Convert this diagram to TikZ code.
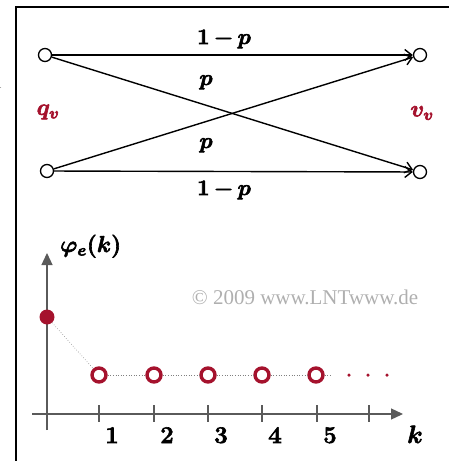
\RequirePackage{fix-cm}
\documentclass[tikz,border=0pt]{standalone}
\usepackage{fontspec}
\newfontfamily\cpyfont{Liberation Serif}
\usetikzlibrary{arrows.meta}
\definecolor{lntred}{RGB}{165,18,45}
\definecolor{axgray}{RGB}{90,90,90}
\definecolor{cpygray}{RGB}{175,175,175}
% heavier glyphs: fill and stroke the text
\newcommand{\heavy}[1]{\special{pdf:literal direct 2 Tr 0.6 w}#1\special{pdf:literal direct 0 Tr 0.4 w}}
\begin{document}
\begin{tikzpicture}[x=1pt,y=-1pt,
    state/.style={draw, circle, line width=1.3pt, fill=white, minimum size=13pt, inner sep=0pt},
    trans/.style={line width=1.4pt, -{Straight Barb[length=7pt,width=11pt,line width=1.4pt]}},
    prob/.style={font=\fontsize{22}{22}\selectfont\boldmath, inner sep=0pt},
    sym/.style={font=\fontsize{23}{23}\selectfont\boldmath, text=lntred, inner sep=0pt},
    axis/.style={axgray, line width=1.3pt, -{Triangle[length=12pt,width=11pt]}},
    tick/.style={axgray, line width=1.1pt},
    num/.style={font=\fontsize{24}{24}\selectfont\bfseries, inner sep=0pt, anchor=base},
    ring/.style={draw=lntred, circle, line width=3.4pt, fill=white, minimum size=14pt, inner sep=0pt},
    dot/.style={fill=lntred, circle, minimum size=15pt, inner sep=0pt},
    more/.style={fill=lntred, circle, minimum size=3.5pt, inner sep=0pt},
  ]
    \useasboundingbox (0,0) rectangle (448,461);

    % frame, cut off on the right and at the bottom
    \draw[line width=1.6pt] (16,470) -- (16,7) -- (460,7);
    \node[font=\fontsize{21}{21}\selectfont, text=axgray, anchor=base east, inner sep=0pt] (cut) at (3,88) {1};

    % channel
    \node[state] (q0) at (45,55)  {};
    \node[state] (q1) at (47,171) {};
    \node[state] (v0) at (420,55) {};
    \node[state] (v1) at (420,172) {};

    \draw[trans] (q0) -- (v0);
    \draw[trans] (q0) -- (v1);
    \draw[trans] (q1) -- (v0);
    \draw[trans] (q1) -- (v1);

    \node[prob, anchor=base] (p00) at (224,44)  {\heavy{$1\,{-}\,p$}};
    \node[prob, anchor=base] (p01) at (206,85)  {\heavy{$p$}};
    \node[prob, anchor=base] (p10) at (206,148) {\heavy{$p$}};
    \node[prob, anchor=base] (p11) at (224,195) {\heavy{$1\,{-}\,p$}};

    \node[sym] (qv) at (48,112)  {\heavy{$q_v$}};
    \node[sym] (vv) at (422,113) {\heavy{$v_v$}};

    % correlation plot
    \draw[axis] (47,430) -- (47,253);
    \draw[axis] (32,414) -- (403,414);
    \node[font=\fontsize{23}{23}\selectfont\boldmath, anchor=base west, inner sep=0pt] (phi) at (60,252) {\heavy{$\varphi_e(k)$}};
    \node[font=\fontsize{25}{25}\selectfont\boldmath, anchor=base, inner sep=0pt] (kk) at (415,443) {\heavy{$k$}};

    \foreach \i/\x in {1/99,2/154,3/208,4/262,5/317} {
      \draw[tick] (\x,405) -- (\x,422);
      \node[num] (n\i) at (\x+13,443) {\heavy{\i}};
    }
    \draw[tick] (369,405) -- (369,422);

    \node[font=\cpyfont\fontsize{21}{21}\selectfont, text=cpygray, inner sep=0pt] (cpy) at (305,297) {© 2009 www.LNTwww.de};

    \node[dot] (e0) at (47,317) {};
    \foreach \i/\x in {1/99,2/154,3/208,4/262,5/316} {
      \node[ring] (e\i) at (\x,375) {};
    }
    \draw[gray, line width=0.6pt, dotted] (e0) -- (e1);
    \foreach \a/\b in {1/2,2/3,3/4,4/5} {
      \draw[gray, line width=0.6pt, dotted] (e\a) -- (e\b);
    }
    \coordinate (tail) at (332,375);
    \draw[gray, line width=0.6pt, dotted] (e5) -- (tail);
    \foreach \x in {349,368,387} {
      \node[more] at (\x,375) {};
    }
\end{tikzpicture}
\end{document}
